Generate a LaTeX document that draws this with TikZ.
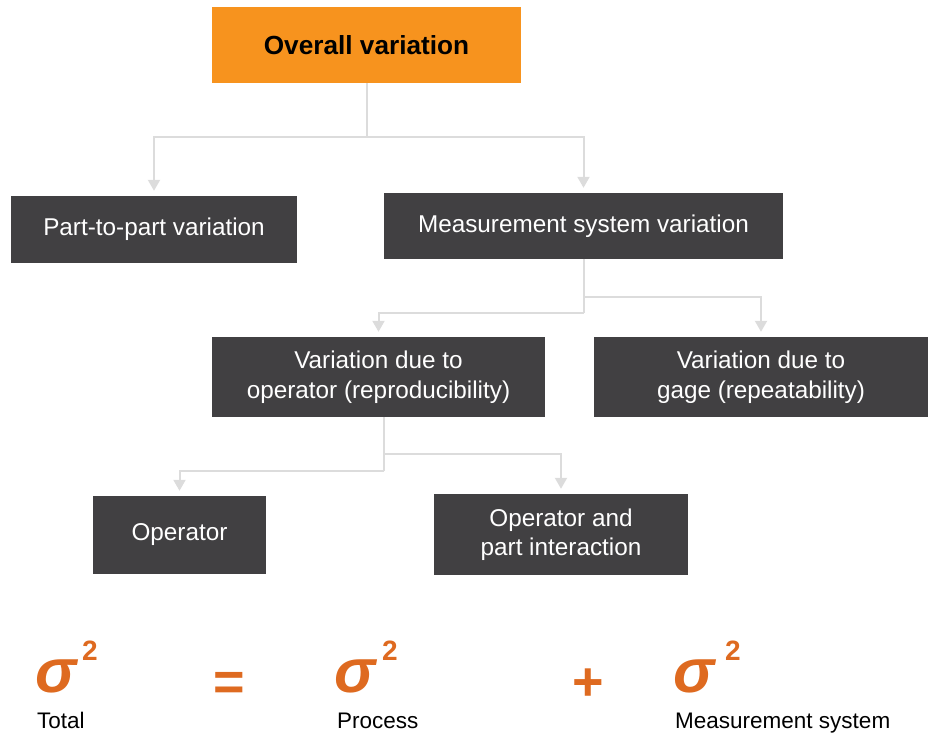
\documentclass[tikz,border=0pt]{standalone}
\usepackage{fontspec}
\setmainfont{Liberation Sans}
\usetikzlibrary{arrows.meta}
\definecolor{boxorange}{HTML}{F7931E}
\definecolor{boxdark}{HTML}{414042}
\definecolor{linegray}{HTML}{DCDCDC}
\definecolor{sigorange}{HTML}{DE6A20}
\begin{document}
\begin{tikzpicture}[x=1pt,y=-1pt,
  darkbox/.style={fill=boxdark, text=white, font=\fontsize{24.3}{29.5}\selectfont, align=center, inner sep=0pt},
  topbox/.style={fill=boxorange, text=black, font=\bfseries\fontsize{26.2}{30}\selectfont, inner sep=0pt},
  conn/.style={draw=linegray, line width=2pt, -{Triangle[width=12pt,length=11pt]}, shorten >=5pt},
  trunk/.style={draw=linegray, line width=2pt},
  sig/.style={text=sigorange, font=\bfseries\itshape\fontsize{62}{62}\selectfont, inner sep=0pt, anchor=base west},
  sq/.style={text=sigorange, font=\bfseries\fontsize{28}{28}\selectfont, inner sep=0pt, anchor=base west},
  op/.style={text=sigorange, font=\bfseries\fontsize{54}{54}\selectfont, inner sep=0pt, anchor=base},
  lbl/.style={text=black, font=\fontsize{22.5}{26}\selectfont, inner sep=0pt, anchor=base west}]
\useasboundingbox (0,0) rectangle (933,736);

% boxes
\node[topbox, minimum width=309pt, minimum height=76pt] (ov) at (366.5,45) {Overall variation};
\node[darkbox, minimum width=286pt, minimum height=67pt] (ptp) at (154,229.5) {Part-to-part variation};
\node[darkbox, minimum width=399pt, minimum height=66pt] (msv) at (583.5,226) {Measurement system variation};
\node[darkbox, minimum width=333pt, minimum height=80pt] (vdo) at (378.5,377) {Variation due to\\operator (reproducibility)};
\node[darkbox, minimum width=334pt, minimum height=80pt] (vdg) at (761,377) {Variation due to\\gage (repeatability)};
\node[darkbox, minimum width=173pt, minimum height=78pt] (opr) at (179.5,535) {Operator};
\node[darkbox, minimum width=254pt, minimum height=81pt] (opi) at (561,534.5) {Operator and\\part interaction};

% connectors
\coordinate (j1) at (ov.south |- 0,137);
\draw[trunk] (ov.south) -- (j1);
\draw[conn] (j1) -| (ptp.north);
\draw[conn] (j1) -| (msv.north);

\coordinate (j2) at (msv.south |- 0,313);
\coordinate (j3) at (msv.south |- 0,297);
\draw[trunk] (msv.south) -- (j2);
\draw[conn] (j2) -| (vdo.north);
\draw[conn] (j3) -| (vdg.north);

\coordinate (vdoS) at ([xshift=5.5pt]vdo.south);
\coordinate (j4) at (vdoS |- 0,471);
\coordinate (j5) at (vdoS |- 0,454);
\draw[trunk] (vdoS) -- (j4);
\draw[conn] (j4) -| (opr.north);
\draw[conn] (j5) -| (opi.north);

% equation
\node[sig] (s1) at (35,692) {σ};
\node[sq] (t1) at (82,660) {2};
\node[op] (eq) at (229.5,700) {=};
\node[sig] (s2) at (334,692) {σ};
\node[sq] (t2) at (382,660) {2};
\node[op] (pl) at (588,700) {+};
\node[sig] (s3) at (673,692) {σ};
\node[sq] (t3) at (725,660) {2};

\node[lbl] (l1) at (37,728) {Total};
\node[lbl] (l2) at (337,728) {Process};
\node[lbl] (l3) at (675,728) {Measurement system};
\end{tikzpicture}
\end{document}
